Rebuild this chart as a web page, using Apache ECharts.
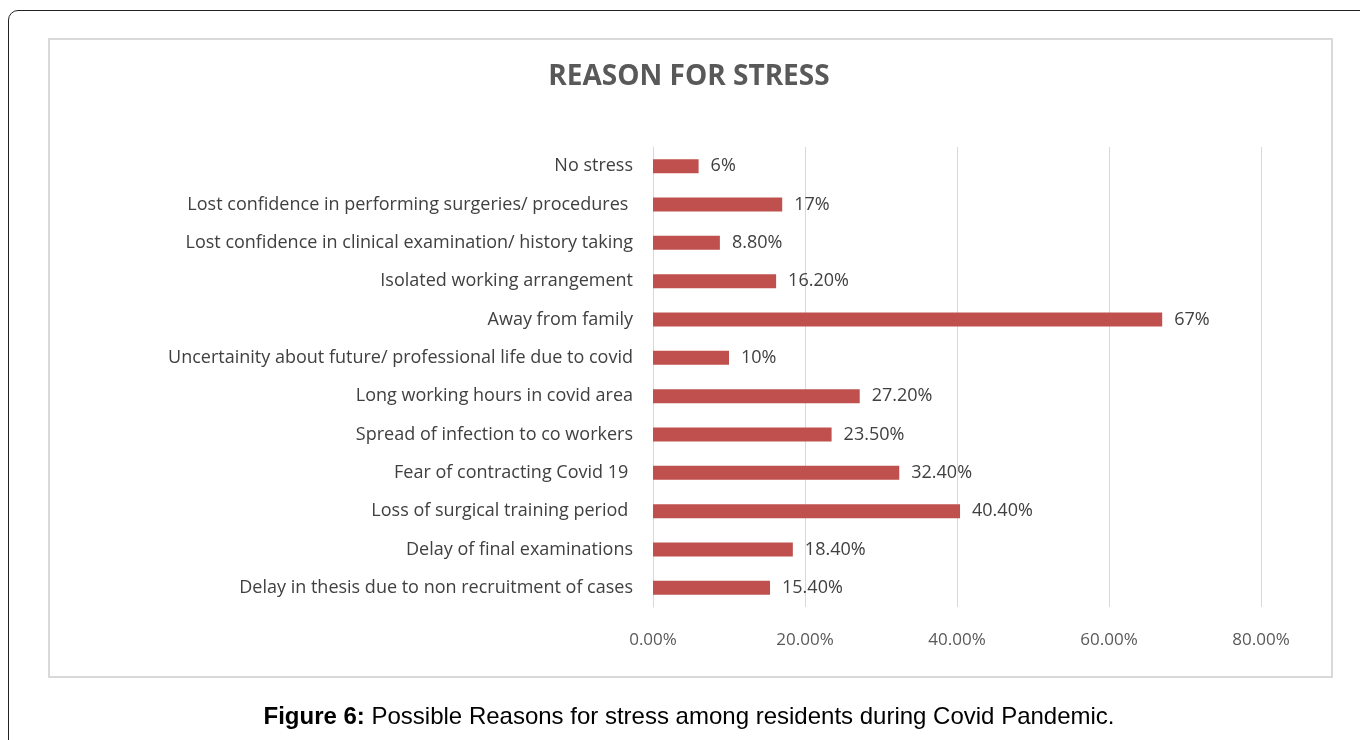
<!DOCTYPE html>
<html>
<head>
<meta charset="utf-8">
<script src="https://cdn.jsdelivr.net/npm/echarts@6/dist/echarts.min.js"></script>
<style>
  html, body { margin:0; padding:0; background:#fff; width:1360px; height:740px; overflow:hidden; }
  #outer { position:absolute; left:8px; top:10px; width:1400px; height:800px; border:1.5px solid #222; border-radius:10px; box-sizing:border-box; }
  #inner { position:absolute; left:48px; top:38px; width:1285px; height:640px; border:2px solid #d9d9d9; box-sizing:border-box; background:#fff; }
  #chart { position:absolute; left:0; top:0; width:1360px; height:740px; }
</style>
</head>
<body>
<div id="outer"></div>
<div id="inner"></div>
<div id="chart"></div>
<script>
const categories = [
  "No stress",
  "Lost confidence in performing surgeries/ procedures ",
  "Lost confidence in clinical examination/ history taking",
  "Isolated working arrangement",
  "Away from family",
  "Uncertainity about future/ professional life due to covid",
  "Long working hours in covid area",
  "Spread of infection to co workers",
  "Fear of contracting Covid 19 ",
  "Loss of surgical training period ",
  "Delay of final examinations",
  "Delay in thesis due to non recruitment of cases"
];
const values = [6, 17, 8.8, 16.2, 67, 10, 27.2, 23.5, 32.4, 40.4, 18.4, 15.4];
const valueLabels = ["6%", "17%", "8.80%", "16.20%", "67%", "10%", "27.20%", "23.50%", "32.40%", "40.40%", "18.40%", "15.40%"];
const xTicks = [0, 20, 40, 60, 80];

const chart = echarts.init(document.getElementById('chart'), null, { renderer: 'canvas' });
chart.setOption({
  backgroundColor: 'transparent',
  animation: false,
  title: [
    {
      text: 'REASON FOR STRESS',
      left: 684, top: 58, textAlign: 'center',
      textStyle: { fontFamily: 'Open Sans', fontWeight: 'bold', fontSize: 28, color: '#595959' }
    },
    {
      text: '{b|Figure 6:} {n|Possible Reasons for stress among residents during Covid Pandemic.}',
      left: 684, top: 700, textAlign: 'center',
      textStyle: {
        fontFamily: 'Liberation Sans', fontSize: 24, fontWeight: 'normal', color: '#000',
        rich: {
          b: { fontFamily: 'Liberation Sans', fontSize: 24, fontWeight: 'bold', color: '#000' },
          n: { fontFamily: 'Liberation Sans', fontSize: 24, fontWeight: 'normal', color: '#000' }
        }
      }
    }
  ],
  grid: { left: 653, right: 1360 - 1261, top: 147, bottom: 740 - 607, containLabel: false },
  xAxis: {
    type: 'value', min: 0, max: 80, interval: 20,
    axisLine: { show: false },
    axisTick: { show: false },
    splitLine: { show: true, lineStyle: { color: '#d9d9d9', width: 1 } },
    axisLabel: {
      margin: 25,
      fontFamily: 'Open Sans', fontSize: 17, color: '#595959',
      formatter: v => xTicks.includes(v) ? v.toFixed(2) + '%' : ''
    }
  },
  yAxis: {
    type: 'category', data: categories, inverse: true,
    axisLine: { show: true, lineStyle: { color: '#d9d9d9', width: 1 } },
    axisTick: { show: false },
    axisLabel: { margin: 20, fontFamily: 'Open Sans', fontSize: 18, color: '#404040' }
  },
  series: [{
    type: 'bar',
    data: values,
    barWidth: 14,
    itemStyle: { color: '#c0504d' },
    label: {
      show: true, position: 'right', distance: 12,
      fontFamily: 'Open Sans', fontSize: 18, color: '#404040',
      formatter: p => valueLabels[p.dataIndex]
    }
  }]
});
</script>
</body>
</html>
